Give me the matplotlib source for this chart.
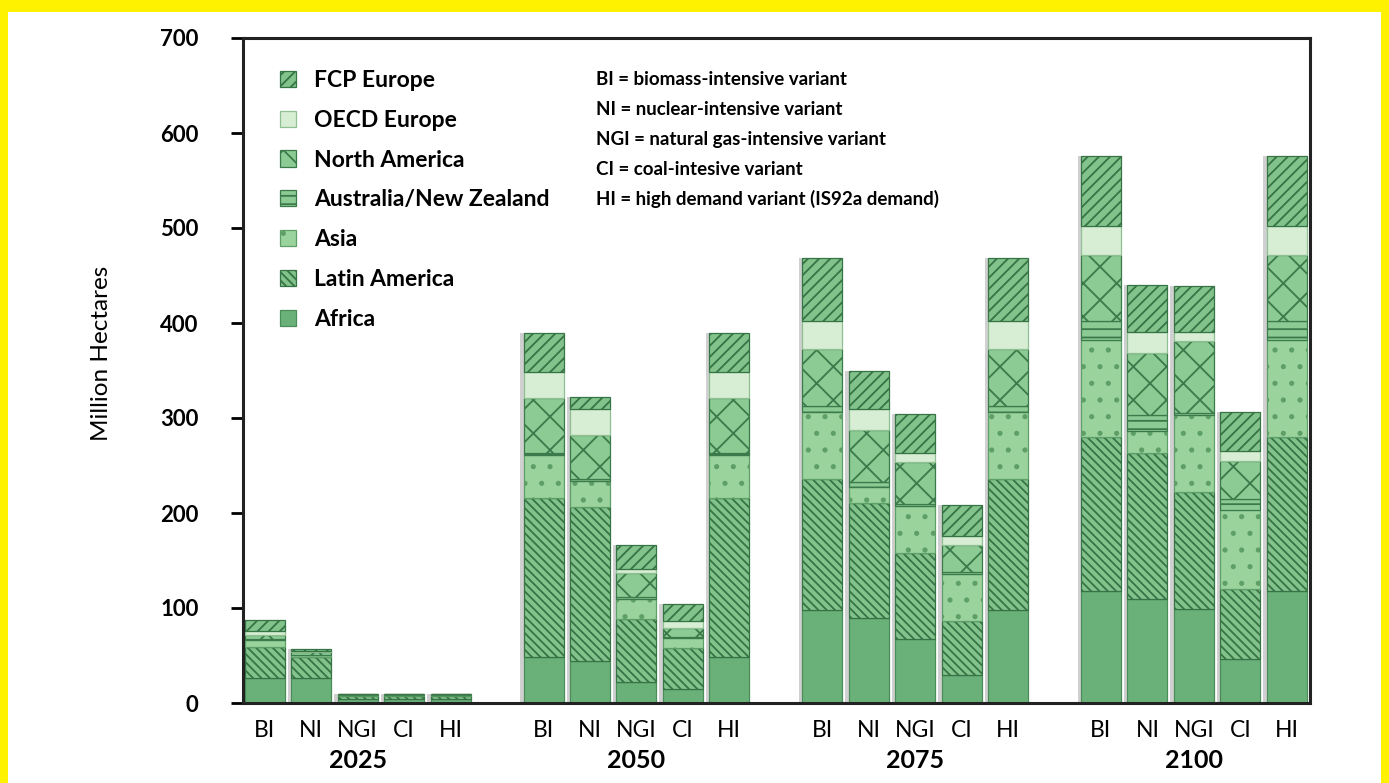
import matplotlib.pyplot as plt
import matplotlib.patches as mpatches
import numpy as np

plt.rcParams['font.family'] = ['Lato', 'DejaVu Sans']
plt.rcParams['hatch.linewidth'] = 1.3

years = ['2025', '2050', '2075', '2100']
variants = ['BI', 'NI', 'NGI', 'CI', 'HI']
regions = ['Africa', 'Latin America', 'Asia', 'Australia/New Zealand',
           'North America', 'OECD Europe', 'FCP Europe']

# million hectares, order: 2025 BI..HI, 2050 BI..HI, 2075 ..., 2100 ...
africa = [26, 26, 4, 4, 4, 48, 44, 22, 15, 48, 98, 90, 67, 30, 98, 118, 110, 99, 46, 118]
latin_america = [33, 22, 3, 3, 3, 168, 162, 66, 43, 168, 138, 121, 91, 56, 138, 162, 153, 123, 74, 162]
asia = [7, 3, 1, 1, 1, 45, 28, 22, 10, 45, 70, 16, 49, 50, 70, 102, 23, 81, 83, 102]
australia_nz = [1, 0, 0, 0, 0, 2, 2, 2, 1, 2, 7, 6, 2, 2, 7, 20, 17, 2, 12, 20]
north_america = [5, 3, 1, 1, 1, 58, 46, 25, 10, 58, 60, 54, 45, 28, 60, 70, 65, 76, 40, 70]
oecd_europe = [4, 1, 0.5, 0.5, 0.5, 27, 28, 4, 7, 27, 29, 23, 9, 10, 29, 30, 23, 10, 10, 30]
fcp_europe = [11, 2, 0.5, 0.5, 0.5, 42, 12, 25, 18, 42, 66, 40, 41, 32, 66, 74, 49, 48, 41, 74]

series = [africa, latin_america, asia, australia_nz, north_america, oecd_europe, fcp_europe]
colors = ['#69b179', '#82c38c', '#9bd39d', '#8ccb93', '#8ccb93', '#d7edd4', '#82c38c']
hatch_colors = ['#4a8c5a', '#367345', '#5e9f68', '#3b7a4a', '#3b7a4a', '#8fbf92', '#367345']
hatches = [None, '\\\\\\\\', '.', '--', 'x', None, '///']

notes = ['BI = biomass-intensive variant',
         'NI = nuclear-intensive variant',
         'NGI = natural gas-intensive variant',
         'CI = coal-intesive variant',
         'HI = high demand variant (IS92a demand)']

fig = plt.figure(figsize=(13.89, 7.83), dpi=100, facecolor='#fff200')
fig.patches.append(mpatches.Rectangle((8 / 1389, 0), 1373 / 1389, 771 / 783,
                                      transform=fig.transFigure, facecolor='white',
                                      edgecolor='none', zorder=-5))
ax = fig.add_axes([243 / 1389, 80 / 783, 1067 / 1389, 665 / 783])
ax.set_zorder(2)
ax.set_facecolor('white')

x = np.array([g * 6 + i for g in range(len(years)) for i in range(len(variants))], dtype=float)
w = 0.86

# soft shadow behind the bars
totals = np.sum(np.array(series), axis=0)
ax.bar(x - 0.04, totals, width=w + 0.07, color='#666666', alpha=0.3, zorder=1)

bottom = np.zeros(len(x))
handles = []
for vals, name, c, hc, h in zip(series, regions, colors, hatch_colors, hatches):
    b = ax.bar(x, vals, width=w, bottom=bottom, color=c, hatch=h,
               edgecolor=hc, linewidth=0.9, label=name, zorder=2)
    handles.append(b)
    bottom += np.array(vals)

ax.set_xlim(-0.47, 22.5)
ax.set_ylim(0, 700)
ax.set_yticks(range(0, 701, 100))
ax.set_yticklabels([str(v) for v in range(0, 701, 100)], fontsize=16, fontweight='bold')
ax.set_xticks(x)
ax.set_xticklabels(variants * len(years), fontsize=16.5, fontweight='normal')
ax.tick_params(axis='y', length=9, width=2, pad=23)
ax.tick_params(axis='x', length=0, pad=12)
for s in ax.spines.values():
    s.set_linewidth(2.2)
    s.set_color('#222222')

for g, yr in enumerate(years):
    ax.text(g * 6 + 2, -0.086, yr, transform=ax.get_xaxis_transform(),
            ha='center', va='center', fontsize=18, fontweight='bold')

fig.text(101 / 1389, 1 - 353 / 783, 'Million Hectares', rotation=90,
         ha='center', va='center', fontsize=17.5)

leg = ax.legend(handles[::-1], regions[::-1], loc='upper left',
                bbox_to_anchor=(0.015, 0.983), frameon=False, fontsize=16.5,
                handlelength=0.7, handleheight=0.7, labelspacing=0.82,
                handletextpad=0.8)
for t in leg.get_texts():
    t.set_fontweight('bold')

for i, n in enumerate(notes):
    ax.text(0.331, 0.937 - i * 0.0448, n, transform=ax.transAxes, fontsize=13.5,
            fontweight='bold', ha='left', va='center')

fig.savefig('out.png', dpi=100, facecolor=fig.get_facecolor())
